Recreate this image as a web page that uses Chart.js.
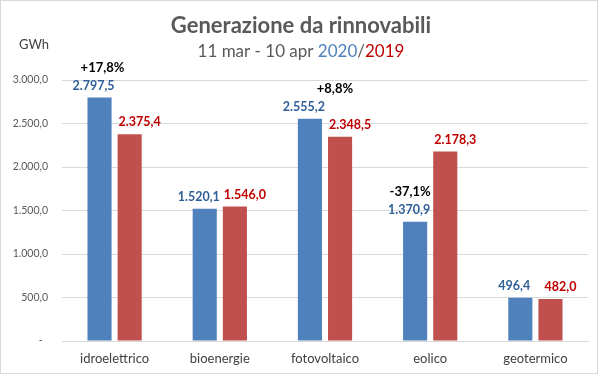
<!DOCTYPE html>
<html>
<head>
<meta charset="utf-8">
<script src="https://cdn.jsdelivr.net/npm/chart.js@4"></script>
<style>
    body { margin: 0; background: #fff; }
    #wrap { width: 600px; height: 375px; position: relative; }
</style>
</head>
<body>
<div id="wrap"><canvas id="chart" width="600" height="375"></canvas></div>
<script>
const categories = ['idroelettrico', 'bioenergie', 'fotovoltaico', 'eolico', 'geotermico'];
const values2020 = [2797.5, 1520.1, 2555.2, 1370.9, 496.4];
const values2019 = [2375.4, 1546.0, 2348.5, 2178.3, 482.0];
const changeLabels = ['+17,8%', '', '+8,8%', '-37,1%', ''];
const yTicks = [0, 500, 1000, 1500, 2000, 2500, 3000];

const FONT = 'Lato, "Open Sans", sans-serif';

// 2.797,5 style
function fmt(v) {
    const parts = v.toFixed(1).split('.');
    const intPart = parts[0].replace(/\B(?=(\d{3})+(?!\d))/g, '.');
    return intPart + ',' + parts[1];
}

const frameAndTitles = {
    id: 'frameAndTitles',
    beforeDraw(chart) {
        const ctx = chart.ctx;
        ctx.save();
        ctx.fillStyle = '#fff';
        ctx.fillRect(0, 0, chart.width, chart.height);
        ctx.strokeStyle = '#d9d9d9';
        ctx.lineWidth = 1;
        ctx.strokeRect(0.5, 0.5, 597, 373);

        ctx.textBaseline = 'alphabetic';
        ctx.textAlign = 'center';
        ctx.fillStyle = '#595959';
        ctx.font = 'bold 22px ' + FONT;
        ctx.fillText('Generazione da rinnovabili', 301, 33);

        // subtitle in three colours
        ctx.font = '17px ' + FONT;
        const pieces = [['11 mar - 10 apr ', '#595959'], ['2020', '#4f81bd'], ['/', '#595959'], ['2019', '#c00000']];
        let total = 0;
        for (const p of pieces) total += ctx.measureText(p[0]).width;
        let x = 301 - total / 2;
        ctx.textAlign = 'left';
        for (const p of pieces) {
            ctx.fillStyle = p[1];
            ctx.fillText(p[0], x, 57);
            x += ctx.measureText(p[0]).width;
        }

        ctx.fillStyle = '#404040';
        ctx.font = '13px ' + FONT;
        ctx.fillText('GWh', 19, 49);
        ctx.restore();
    },
    afterDatasetsDraw(chart) {
        const ctx = chart.ctx;
        ctx.save();
        ctx.textAlign = 'center';
        ctx.textBaseline = 'middle';
        const labelColors = ['#2f5f98', '#c00000'];
        const dx = [-6, 10];
        chart.data.datasets.forEach((ds, di) => {
            const meta = chart.getDatasetMeta(di);
            meta.data.forEach((bar, i) => {
                ctx.font = 'bold 12.5px ' + FONT;
                ctx.fillStyle = labelColors[di];
                ctx.fillText(fmt(ds.data[i]), bar.x + dx[di], bar.y - 12);
            });
        });
        // percentage change over the 2020 bars
        const pctDx = [3, 0, 25, -5, 0];
        const meta0 = chart.getDatasetMeta(0);
        ctx.font = 'bold 13px ' + FONT;
        ctx.fillStyle = '#000';
        changeLabels.forEach((txt, i) => {
            if (!txt) return;
            const bar = meta0.data[i];
            ctx.fillText(txt, bar.x + pctDx[i], bar.y - 30);
        });
        ctx.restore();
    }
};

new Chart(document.getElementById('chart'), {
    type: 'bar',
    data: {
        labels: categories,
        datasets: [
            { label: '2020', data: values2020, backgroundColor: '#4f81bd' },
            { label: '2019', data: values2019, backgroundColor: '#c0504d' }
        ]
    },
    options: {
        responsive: false,
        animation: false,
        events: [],
        layout: { padding: { top: 80, right: 12, left: 0, bottom: 0 } },
        datasets: {
            bar: { categoryPercentage: 0.573, barPercentage: 0.8 }
        },
        plugins: {
            legend: { display: false },
            tooltip: { enabled: false }
        },
        scales: {
            x: {
                grid: { display: false, drawTicks: false },
                border: { display: true, color: '#d9d9d9' },
                ticks: { color: '#404040', font: { family: FONT, size: 13 }, padding: 10 },
                afterFit(scale) { scale.height = 34; }
            },
            y: {
                min: 0,
                max: 3000,
                afterBuildTicks(scale) { scale.ticks = yTicks.map(v => ({ value: v })); },
                grid: { color: '#d9d9d9', drawTicks: false },
                border: { display: false },
                ticks: {
                    color: '#595959',
                    font: { family: FONT, size: 10.5 },
                    padding: 14,
                    callback: v => v === 0 ? '-  ' : fmt(v)
                },
                afterFit(scale) { scale.width = 62; }
            }
        }
    },
    plugins: [frameAndTitles]
});
</script>
</body>
</html>
